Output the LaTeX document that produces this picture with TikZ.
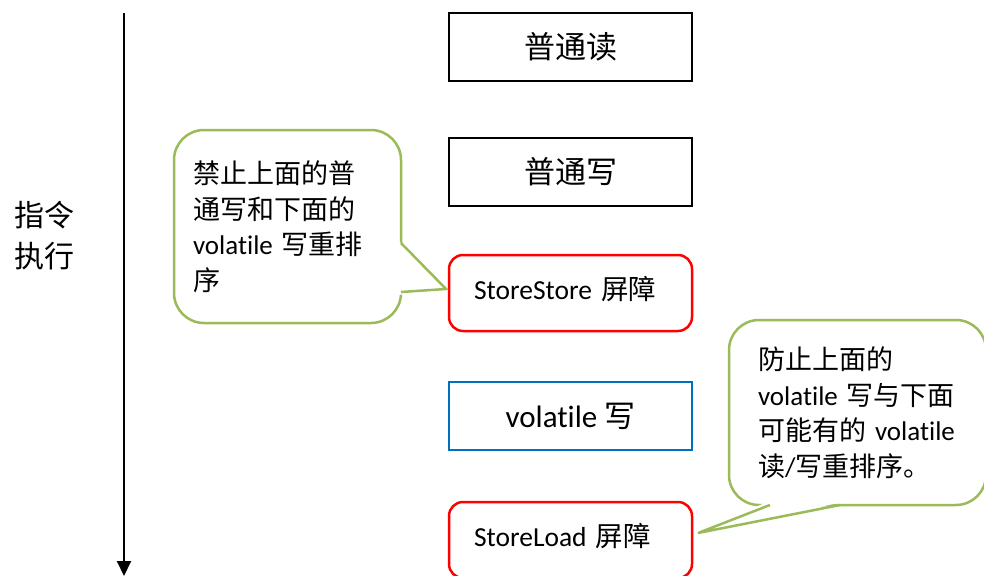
\documentclass[tikz,border=0pt]{standalone}
\usepackage{fontspec}
\setmainfont{Carlito}[Ligatures=NoCommon]
\newfontfamily\cjk{Noto Sans CJK SC}
\usetikzlibrary{arrows.meta,calc}
\definecolor{bubblegreen}{HTML}{9BBB59}
\definecolor{volblue}{HTML}{0070C0}
\newcommand{\zh}[1]{{\cjk #1}}

\begin{document}
\begin{tikzpicture}[x=1pt, y=-1pt,
  plainbox/.style={draw=black, line width=2pt, minimum width=243pt, minimum height=68pt, font=\fontsize{31}{36}\selectfont},
  barrier/.style={draw=red, line width=2.5pt, rounded corners=14pt, minimum width=243pt, minimum height=76pt, text width=193pt, inner xsep=25pt, text height=23pt, text depth=11pt, align=left, font=\fontsize{27.5}{32}\selectfont},
  bubble/.style={draw=bubblegreen, line width=2.5pt, rounded corners=30pt, fill=white, align=left, font=\fontsize{27}{35.5}\selectfont},
  pointer/.style={draw=bubblegreen, line width=2.5pt, line join=miter},
  timeline/.style={line width=2pt, -{Triangle[width=14pt,length=15pt]}}]
\useasboundingbox (0,0) rectangle (984,575);

\def\xm{570.5}
\def\ya{47}
\def\yb{172}
\def\yc{293}
\def\yd{416}
\def\ye{540}

% the instruction column
\node[plainbox] (rd) at (\xm, \ya) {\zh{普通读}};
\node[plainbox] (wr) at (\xm, \yb) {\zh{普通写}};
\node[barrier] (ss) at (\xm, \yc) {StoreStore \zh{屏障}};
\node[plainbox, draw=volblue, line width=2.5pt] (vw) at (\xm, \yd) {volatile \zh{写}};
\node[barrier] (sl) at (\xm, \ye) {StoreLoad \zh{屏障}};

% time axis
\coordinate (top) at (124, 13);
\coordinate (bot) at (124, 576);
\draw[timeline] (top) -- (bot);
\node[font=\fontsize{30}{41}\selectfont, align=center] (lbl) at (44, 236) {\zh{指令}\\\zh{执行}};

% callout for StoreStore
\node[bubble, minimum width=227pt, minimum height=193pt, text width=189pt, inner xsep=19pt] (note1) at (287.5, 226.5)
  {\zh{禁止上面的普}\\\zh{通写和下面的}\\volatile \zh{写重排}\\\zh{序}};
\coordinate (n1a) at (401, 243);
\coordinate (n1t) at (446, 289);
\coordinate (n1b) at (401, 292);
\fill[white] ($(n1a)+(-3,-3)$) -- (n1t) -- ($(n1b)+(-3,3)$) -- cycle;
\draw[pointer] (n1a) -- (n1t) -- (n1b);

% callout for StoreLoad
\node[bubble, minimum width=257pt, minimum height=185pt, text width=199pt, inner xsep=29pt] (note2) at (857.5, 412.5)
  {\zh{防止上面的}\\volatile \zh{写与下面}\\\zh{可能有的} volatile\\\zh{读}/\zh{写重排序。}};
\coordinate (n2a) at (770, 505);
\coordinate (n2t) at (698, 533);
\coordinate (n2b) at (840, 505);
\fill[white] ($(n2a)+(-3,-3)$) -- (n2t) -- ($(n2b)+(3,-3)$) -- cycle;
\draw[pointer] (n2a) -- (n2t) -- (n2b);

\end{tikzpicture}
\end{document}
